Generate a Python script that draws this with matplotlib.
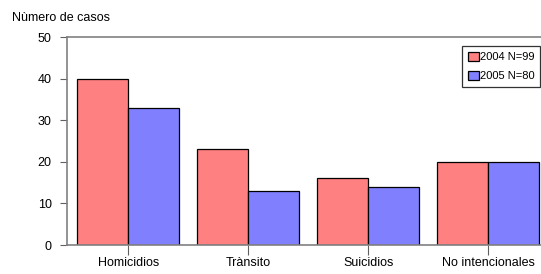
import matplotlib
matplotlib.use("Agg")
import matplotlib.pyplot as plt
import numpy as np

plt.rcParams['font.family'] = ['Liberation Sans', 'DejaVu Sans']

categories = ["Homicidios", "Trànsito", "Suicidios", "No intencionales"]
series_2004 = [40, 23, 16, 20]
series_2005 = [33, 13, 14, 20]
labels = ["2004 N=99", "2005 N=80"]
yticks = [0, 10, 20, 30, 40, 50]

fig = plt.figure(figsize=(5.41, 2.74), dpi=100)
ax = fig.add_axes([67/541, 1-245/274, 1-67/541, (245-37)/274])

x = np.arange(len(categories))
w = 0.425
ax.bar(x - w/2, series_2004, w, color="#FF8080", edgecolor="black", linewidth=0.9, label=labels[0])
ax.bar(x + w/2, series_2005, w, color="#8080FF", edgecolor="black", linewidth=0.9, label=labels[1])

ax.set_xlim(-0.51, 3.44)
ax.set_ylim(0, 50)
ax.set_yticks(yticks)
ax.set_xticks(x)
ax.set_xticklabels(categories, fontsize=9)
ax.tick_params(axis='y', direction='out', length=5, color='#606060', labelsize=9, pad=6)
ax.tick_params(axis='x', direction='out', length=7, color='#606060', pad=2)

for s in ['left', 'top', 'bottom']:
    ax.spines[s].set_color('#808080')
    ax.spines[s].set_linewidth(1.2)
ax.spines['right'].set_visible(False)

fig.text(12/541, 1-18/274, "Nùmero de casos", fontsize=9, va='center', ha='left')

leg = ax.legend(loc='upper right', bbox_to_anchor=(540/541, 1-46/274), bbox_transform=fig.transFigure,
                fontsize=8, frameon=True, fancybox=False, edgecolor='black', borderpad=0.5,
                handlelength=1.0, handleheight=0.9, handletextpad=0.1, labelspacing=0.8,
                borderaxespad=0)
leg.get_frame().set_linewidth(0.9)

fig.savefig("out.png", dpi=100)
